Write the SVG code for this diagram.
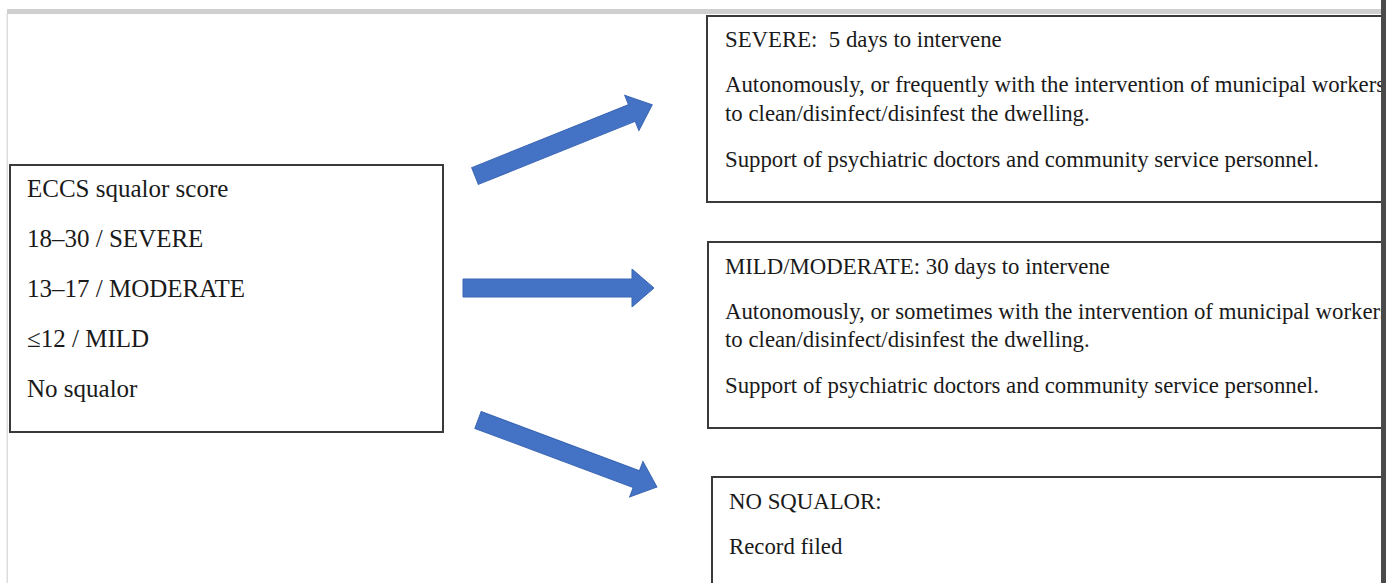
<svg xmlns="http://www.w3.org/2000/svg" width="1386" height="583" viewBox="0 0 1386 583">
<style>
.box{fill:#fff;stroke:#3a3a3a;stroke-width:2}
.t{font-family:"Liberation Serif","Times New Roman",serif;fill:#1a1a1a}
.l{font-size:25px}
.r{font-size:22.8px}
.arr{fill:#4472C4;stroke:#3b66b3;stroke-width:1}
</style>
<defs>
<polygon id="arrowShape" points="0,-9 169,-9 169,-19 191,0 169,19 169,9 0,9"/>
</defs>
<rect width="1386" height="583" fill="#fff"/>
<g id="frame">
<rect x="7" y="9" width="1376" height="5" fill="#cfcfcf"/>
<rect x="6.5" y="14" width="1.5" height="569" fill="#dcdcdc"/>
</g>
<g id="node-score">
<rect class="box" x="10" y="165" width="433" height="267"/>
<text class="t l" x="27" y="197">ECCS squalor score</text>
<text class="t l" x="27" y="247">18–30 / SEVERE</text>
<text class="t l" x="27" y="297">13–17 / MODERATE</text>
<text class="t l" x="27" y="347">≤12 / MILD</text>
<text class="t l" x="27" y="397">No squalor</text>
</g>
<g id="node-severe">
<rect class="box" x="707" y="16" width="700" height="186"/>
<text class="t r" x="725" y="47" xml:space="preserve">SEVERE:  5 days to intervene</text>
<text class="t r" x="725" y="92">Autonomously, or frequently with the intervention of municipal workers</text>
<text class="t r" x="725" y="121">to clean/disinfect/disinfest the dwelling.</text>
<text class="t r" x="725" y="167">Support of psychiatric doctors and community service personnel.</text>
</g>
<g id="node-moderate">
<rect class="box" x="708" y="242" width="700" height="186"/>
<text class="t r" x="725" y="274">MILD/MODERATE: 30 days to intervene</text>
<text class="t r" x="725" y="319">Autonomously, or sometimes with the intervention of municipal workers</text>
<text class="t r" x="725" y="347">to clean/disinfect/disinfest the dwelling.</text>
<text class="t r" x="725" y="393">Support of psychiatric doctors and community service personnel.</text>
</g>
<g id="node-nosqualor">
<rect class="box" x="712" y="477" width="700" height="200"/>
<text class="t r" x="729" y="509">NO SQUALOR:</text>
<text class="t r" x="729" y="554">Record filed</text>
</g>
<g id="connectors">
<use href="#arrowShape" class="arr" transform="translate(475,176) rotate(-21.9)"/>
<use href="#arrowShape" class="arr" transform="translate(463,288)"/>
<use href="#arrowShape" class="arr" transform="translate(478,420) rotate(20.5)"/>
</g>
<rect id="right-edge" x="1381" y="0" width="5" height="583" fill="#4a4a4a"/>
</svg>
